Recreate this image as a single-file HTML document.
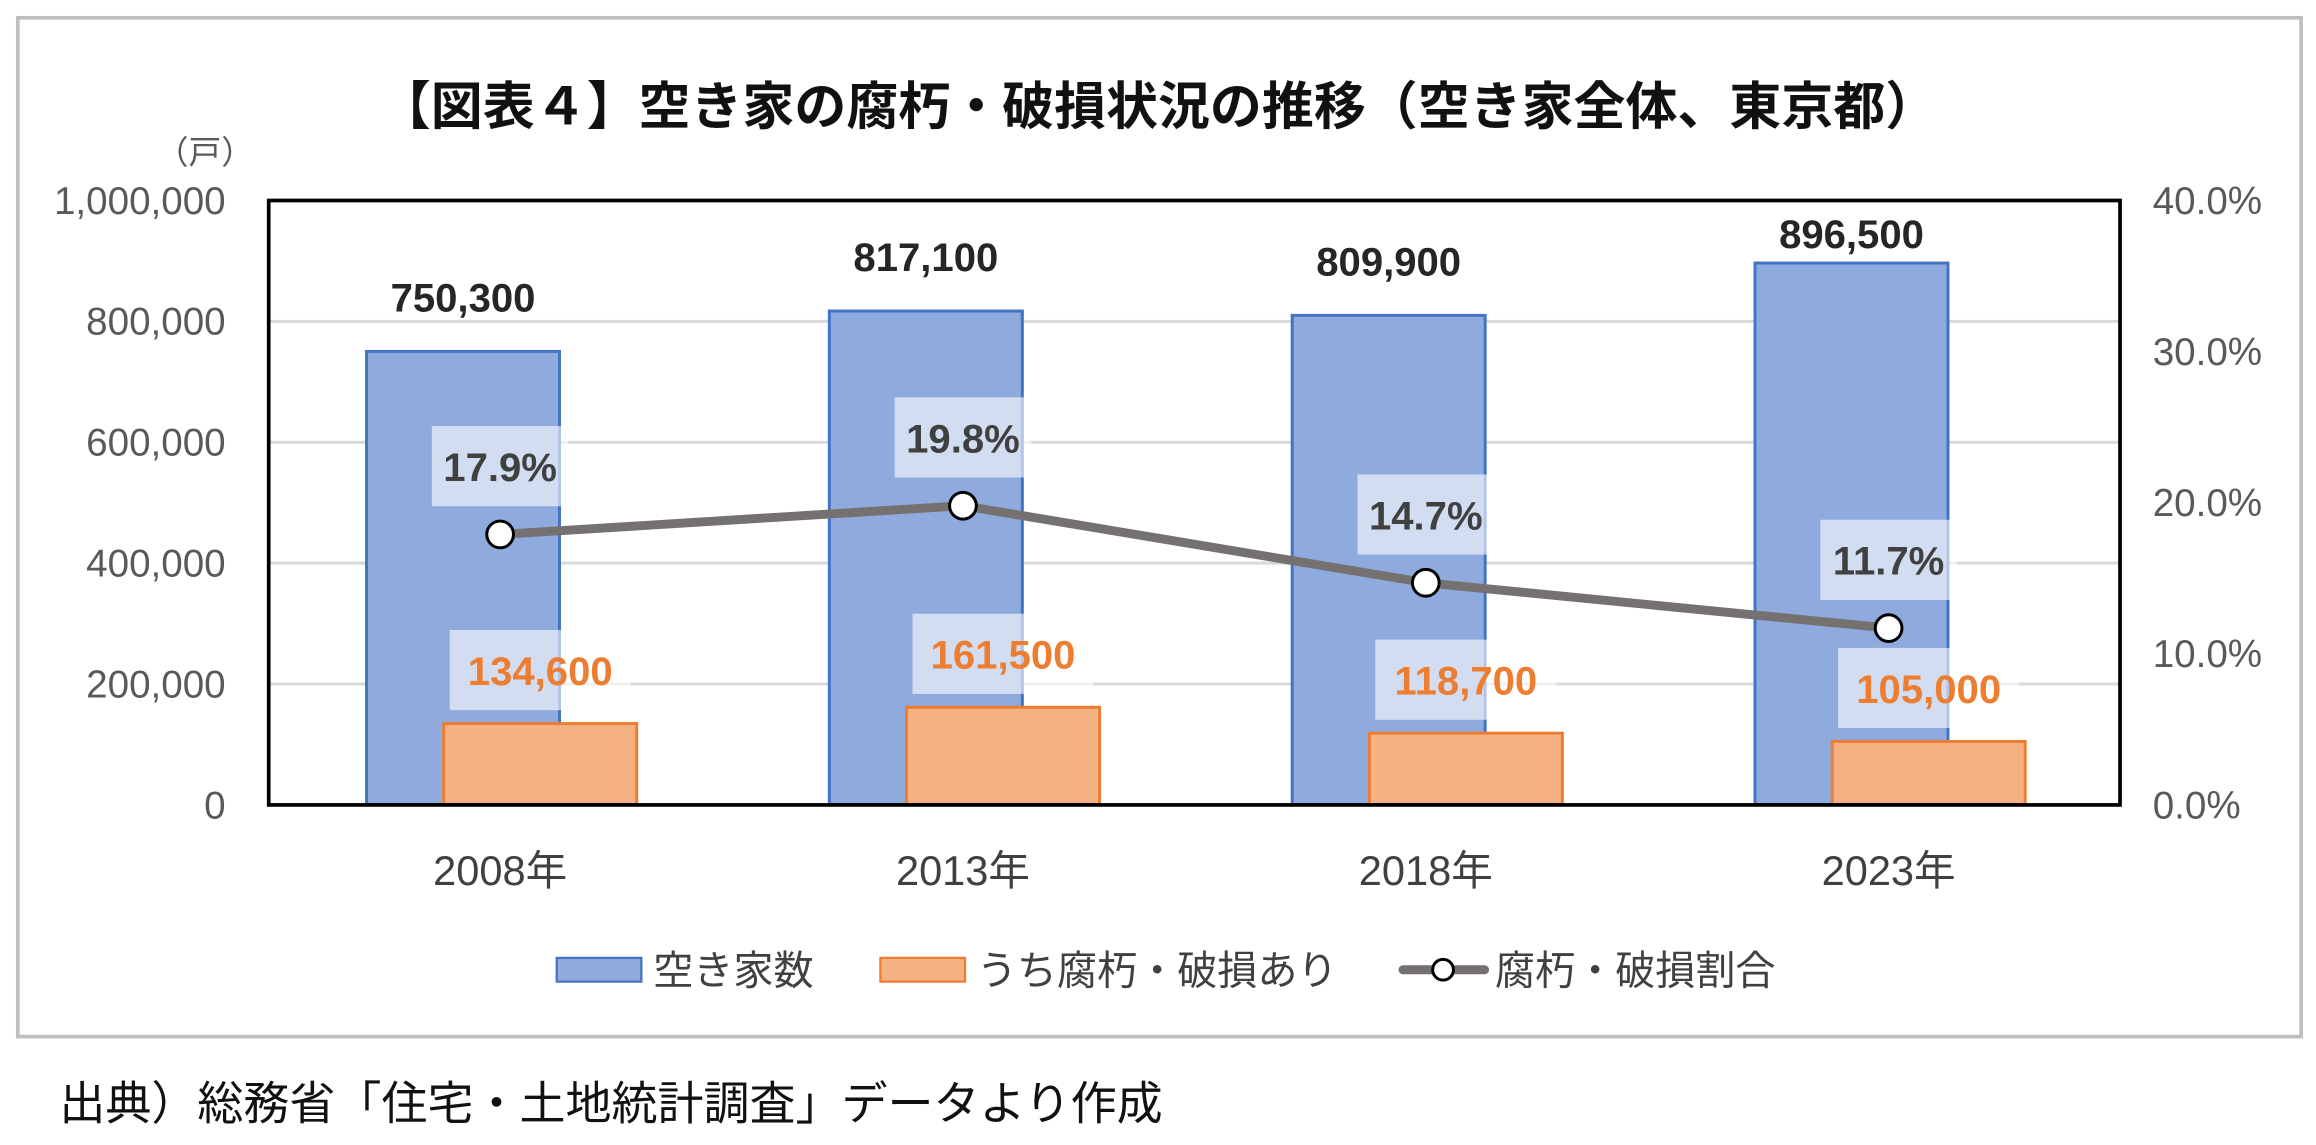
<!DOCTYPE html>
<html><head><meta charset="utf-8">
<style>
html,body{margin:0;padding:0;background:#fff;}
svg{display:block;}
text{font-family:"Liberation Sans","Noto Sans CJK JP",sans-serif;}
</style></head>
<body>
<svg id="chart" width="2316" height="1145" viewBox="0 0 1560 771" preserveAspectRatio="none" xmlns="http://www.w3.org/2000/svg">
<rect x="12" y="12" width="1538" height="686" fill="#fff" stroke="#bfbfbf" stroke-width="2.5"/>
<text x="780" y="84" text-anchor="middle" font-size="35" font-weight="bold" fill="#111">【図表４】空き家の腐朽・破損状況の推移（空き家全体、東京都）</text>
<text x="138" y="110" text-anchor="middle" font-size="22" fill="#595959">（戸）</text>
<g id="grid"></g>
<g id="bars"></g>
<g id="line"></g>
<g id="labels"></g>
<rect x="181" y="135" width="1247" height="407" fill="none" stroke="#000" stroke-width="2.5"/>
<g id="axes"></g>
<g>
<rect x="375" y="645" width="57" height="16" fill="#8FAADC" stroke="#4472C4" stroke-width="1.5"/>
<text x="440" y="663" font-size="27" fill="#404040">空き家数</text>
<rect x="593" y="645" width="57" height="16" fill="#F4B183" stroke="#ED7D31" stroke-width="1.5"/>
<text x="658" y="663" font-size="27" fill="#404040">うち腐朽・破損あり</text>
<line x1="945" y1="653" x2="1000" y2="653" stroke="#767171" stroke-width="6" stroke-linecap="round"/>
<circle cx="972" cy="653" r="7" fill="#fff" stroke="#000" stroke-width="2"/>
<text x="1007" y="663" font-size="27" fill="#404040">腐朽・破損割合</text>
</g>
<text x="40" y="754" font-size="31" fill="#111">出典）総務省「住宅・土地統計調査」データより作成</text>
</svg>
<script>
const categories = ["2008年","2013年","2018年","2023年"];
const vacantValues = [750300, 817100, 809900, 896500];
const damagedValues = [134600, 161500, 118700, 105000];
const ratioValues = [17.9, 19.8, 14.7, 11.7];
const leftTicks = [0, 200000, 400000, 600000, 800000, 1000000];
const rightTicks = [0, 10, 20, 30, 40];

const NS = "http://www.w3.org/2000/svg";
const PL = 181, PR = 1428, PT = 135, PB = 542;
const yL = v => PB - v / 1000000 * (PB - PT);
const yR = v => PB - v / 40 * (PB - PT);
const band = (PR - PL) / categories.length;
const xC = i => PL + band * (i + 0.5);
const fmt = v => v.toLocaleString("en-US");
function mk(tag, attrs, parent, txt) {
  const e = document.createElementNS(NS, tag);
  for (const k in attrs) e.setAttribute(k, attrs[k]);
  if (txt !== undefined) e.textContent = txt;
  document.getElementById(parent).appendChild(e);
  return e;
}
leftTicks.forEach((t, i) => {
  if (t > 0 && t < 1000000) {
    const g = mk("line", {x1: PL, x2: PR, y1: yL(t), y2: yL(t), stroke: "#d9d9d9", "stroke-width": 2}, "grid");
    
    
  }
  const l = mk("text", {x: 152, y: yL(t) + 9, "text-anchor": "end", "font-size": 26, fill: "#595959"}, "axes", fmt(t));
  
  
});
rightTicks.forEach(t => {
  const l = mk("text", {x: 1450, y: yR(t) + 9, "font-size": 26, fill: "#595959"}, "axes", t.toFixed(1) + "%");
  
  
});
const BW = 130;
categories.forEach((c, i) => {
  const cx = xC(i);
  const b = mk("rect", {x: cx - 25 - BW / 2, y: yL(vacantValues[i]), width: BW, height: PB - yL(vacantValues[i]), fill: "#8FAADC", stroke: "#4472C4", "stroke-width": 2}, "bars");
  
  
  const o = mk("rect", {x: cx + 27 - BW / 2, y: yL(damagedValues[i]), width: BW, height: PB - yL(damagedValues[i]), fill: "#F4B183", stroke: "#ED7D31", "stroke-width": 2}, "bars");
  
  
  const xl = mk("text", {x: cx, y: 596, "text-anchor": "middle", "font-size": 28, fill: "#404040"}, "axes", c);
  
  
  const vy = Math.max(yL(vacantValues[i]) - 37, 157);
  const vl = mk("text", {x: cx - 25, y: vy + 10, "text-anchor": "middle", "font-size": 27, "font-weight": "bold", fill: "#262626"}, "labels", fmt(vacantValues[i]));
  
  
  const dy = yL(damagedValues[i]) - 36;
  const db = mk("rect", {x: cx - 34, y: dy - 27, width: 122, height: 54, fill: "#fff", "fill-opacity": 0.6}, "labels");
  
  
  const dl = mk("text", {x: cx + 27, y: dy + 10, "text-anchor": "middle", "font-size": 27, "font-weight": "bold", fill: "#ED7D31"}, "labels", fmt(damagedValues[i]));
  
  
  const py = yR(ratioValues[i]) - 46;
  const pb = mk("rect", {x: cx - 46, y: py - 27, width: 92, height: 54, fill: "#fff", "fill-opacity": 0.6}, "labels");
  
  
  const pl = mk("text", {x: cx, y: py + 10, "text-anchor": "middle", "font-size": 27, "font-weight": "bold", fill: "#404040"}, "labels", ratioValues[i].toFixed(1) + "%");
  
  
});
const pts = ratioValues.map((v, i) => xC(i) + "," + yR(v)).join(" ");
const ln = mk("polyline", {points: pts, fill: "none", stroke: "#767171", "stroke-width": 6, "stroke-linejoin": "round"}, "line");


ratioValues.forEach((v, i) => {
  const m = mk("circle", {cx: xC(i), cy: yR(v), r: 9, fill: "#fff", stroke: "#000", "stroke-width": 2}, "line");
  
  
});
</script>
</body></html>
